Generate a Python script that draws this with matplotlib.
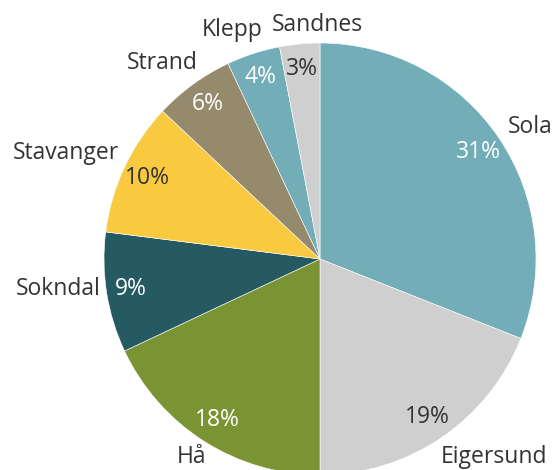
import matplotlib
matplotlib.use("Agg")
import matplotlib.pyplot as plt

labels = ["Sola", "Eigersund", "Hå", "Sokndal", "Stavanger", "Strand", "Klepp", "Sandnes"]
values = [31, 19, 18, 9, 10, 6, 4, 3]
colors = ["#72adb8", "#cfcfcf", "#7a9434", "#265a63", "#f9ca40", "#958a6c", "#72adb8", "#cfcfcf"]
pct_colors = ["white", "#333333", "white", "white", "#333333", "white", "white", "#333333"]
# small nudges so the labels sit where Excel put them
nudge_x = [0.0, -0.03, 0.035, 0.02, 0.02, 0.05, 0.06, 0.0]
nudge_y = [0.02, -0.05, -0.03, 0.025, 0.045, 0.06, 0.06, 0.0]

plt.rcParams["font.family"] = ["Open Sans", "DejaVu Sans"]

fig = plt.figure(figsize=(5.55, 4.7), dpi=100)
ax = fig.add_axes([0, 0, 1, 1])

wedges, texts, autotexts = ax.pie(
    values, labels=labels, colors=colors, startangle=90, counterclock=False,
    autopct="%d%%", pctdistance=0.885, labeldistance=1.05,
    wedgeprops=dict(edgecolor="white", linewidth=0.4),
    textprops=dict(fontsize=16.5, color="#333333"),
)
for t, c in zip(autotexts, pct_colors):
    t.set_color(c)

for t, dx, dy in zip(texts, nudge_x, nudge_y):
    x, y = t.get_position()
    t.set_position((x + dx, y + dy))

# Sandnes label sits centred above its slice
texts[-1].set_ha("center")
texts[-1].set_position((-0.01, 1.085))

# pie centre at pixel (320, 259), radius 216 px
r = 216
ax.set_xlim(-320 / r, (555 - 320) / r)
ax.set_ylim(-(470 - 259) / r, 259 / r)
ax.set_aspect("auto")
ax.axis("off")

fig.savefig("out.png", dpi=100)
